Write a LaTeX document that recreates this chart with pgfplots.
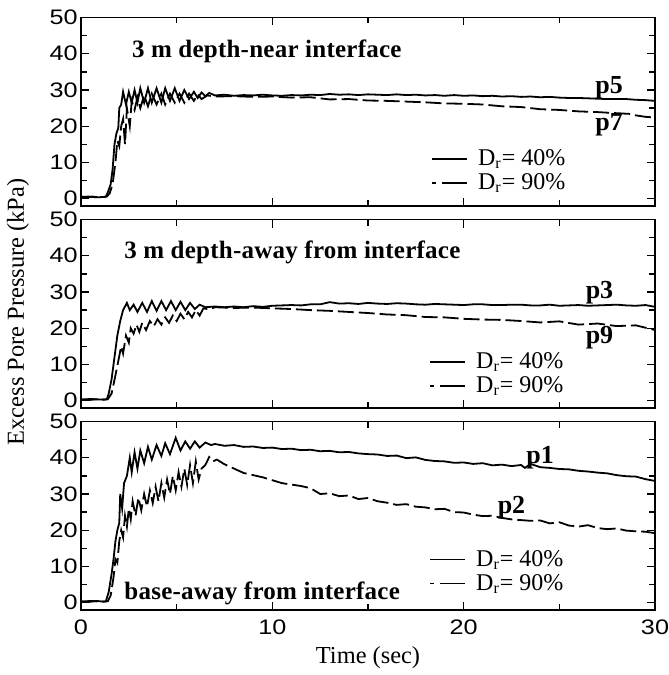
\documentclass[border=0pt]{standalone}
\usepackage{fontspec}
\setmainfont{Liberation Serif}
\newfontfamily\tickfont[FakeStretch=1.2]{Liberation Sans}
\newfontfamily\ttlfont[LetterSpace=1]{Liberation Serif}
\usepackage{pgfplots}
\pgfplotsset{compat=1.18}
\pgfplotsset{
 panel/.style={
  scale only axis, width=287pt, height=94.25pt,
  xmin=0,xmax=30,ymin=-2,ymax=50,
  xtick={0,10,20,30}, minor xtick={5,15,25},
  ytick={0,10,...,50}, minor ytick={5,15,...,45},
  tick align=inside, major tick length=4pt, minor tick length=3pt,
  axis line style={line width=0.8pt},
  every tick/.style={line width=0.7pt, black},
  tick label style={font=\tickfont\fontsize{10.5}{11}\selectfont},
  /pgf/number format/assume math mode=true,
  yticklabel style={inner sep=1.5pt},
  xticklabel style={yshift=-1.5pt},
  legend cell align=left,
  legend style={draw=none, fill=none, inner sep=0pt, row sep=-1.5pt,
    font=\fontsize{12}{13}\selectfont, anchor=west,
    /tikz/every odd column/.append style={column sep=3pt}},
 },
 sline/.style={line width=0.9pt, black,
   legend image code/.code={\draw[line width=0.8pt] (0pt,0pt) -- (17.5pt,0pt);}},
 dline/.style={line width=0.9pt, black, dash pattern=on 8pt off 2.5pt,
   legend image code/.code={\draw[line width=0.8pt, dash pattern=on 2pt off 3pt on 12.5pt off 3pt] (0pt,0pt) -- (17.5pt,0pt);}},
}
\tikzset{
 ttl/.style={anchor=west, font=\ttlfont\bfseries\fontsize{12.5}{14}\selectfont},
 plab/.style={font=\bfseries\fontsize{13}{14}\selectfont},
}
\begin{document}
\begin{tikzpicture}
\path[use as bounding box] (0,0) rectangle (334.5pt,337.5pt);
% Panel 1
\begin{axis}[panel, at={(40.5pt,234.5pt)}, anchor=south west, xticklabels={},
  legend style={at={(axis cs:18.3,7.7)}}]
\addplot[sline] coordinates {(0,0.6)(0.3,0.4)(0.6,0.6)(0.9,0.4)(1.2,0.5)(1.3,0.6)(1.42,2)(1.55,4)(1.65,8)(1.75,15)(1.85,18)(1.95,19.5)(2.0,25)(2.1,26)(2.2,29.5)(2.35,26)(2.5,29.5)(2.65,26.5)(2.8,30)(2.95,26.5)(3.1,30.5)(3.3,26.5)(3.5,30.5)(3.7,26.5)(3.95,30.5)(4.2,26.5)(4.4,30.5)(4.65,27)(4.9,30.5)(5.15,27)(5.4,30)(5.65,27.5)(5.9,29.5)(6.1,27.8)(6.3,29.3)(6.5,28.3)(6.7,29.2)(7,28.5)(7.5,28.7)(8,28.4)(8.5,28.6)(9,28.5)(9.5,28.7)(10,28.5)(10.5,28.4)(11,28.6)(11.5,28.5)(12,28.7)(12.5,28.6)(13,28.9)(13.5,28.7)(14,28.8)(14.5,28.6)(15,28.8)(15.5,28.7)(16,28.6)(16.5,28.8)(17,28.6)(17.5,28.7)(18,28.5)(18.5,28.6)(19,28.4)(19.5,28.6)(20,28.4)(20.5,28.5)(21,28.3)(21.5,28.4)(22,28.2)(22.5,28.3)(23,28.1)(23.5,28.2)(24,28.0)(24.5,28.1)(25,27.9)(25.5,27.8)(26,27.8)(26.5,27.7)(27,27.6)(27.5,27.5)(28,27.5)(28.5,27.5)(29,27.3)(29.5,27.2)(30,27.0)};
\addlegendentry{D\textsubscript{r}= 40\%}
\addplot[dline] coordinates {(0,0.5)(0.4,0.6)(0.8,0.4)(1.2,0.5)(1.35,0.6)(1.5,1.5)(1.65,4)(1.8,10)(1.9,16)(2.0,14.5)(2.1,20)(2.2,22)(2.3,15)(2.4,25)(2.55,20)(2.65,27)(2.8,24.5)(2.95,28)(3.1,25)(3.3,28.5)(3.5,25.5)(3.7,29)(3.95,26)(4.2,29)(4.4,26)(4.65,29)(4.9,26.5)(5.15,29)(5.4,26.5)(5.65,29)(5.9,27)(6.1,28.8)(6.3,27.5)(6.6,28.5)(7,28.2)(8,28.3)(9,28.1)(10,28.2)(11,27.9)(12,28.0)(13,27.4)(14,27.5)(15,27.1)(16,27.0)(17,26.8)(18,26.6)(19,26.3)(20,26.2)(21,26.0)(22,25.5)(23,25.3)(24,24.7)(25,24.5)(26,24.1)(27,23.9)(28,23.6)(28.7,23.4)(29,23.0)(29.5,22.6)(30,22.4)};
\addlegendentry{D\textsubscript{r}= 90\%}
\node[ttl] at (axis cs:2.3,40.7) {3 m depth-near interface};
\node[plab] at (axis cs:27.6,30.6) {p5};
\node[plab] at (axis cs:27.6,20.3) {p7};
\end{axis}
% Panel 2
\begin{axis}[panel, at={(40.5pt,133.5pt)}, anchor=south west, xticklabels={},
  legend style={at={(axis cs:18.2,7.45)}}]
\addplot[sline] coordinates {(0,0.4)(0.4,0.2)(0.8,0.4)(1.2,0.3)(1.35,0.4)(1.45,2)(1.6,6)(1.75,12)(1.9,18)(2.05,22)(2.2,25)(2.4,27)(2.55,25)(2.75,26.5)(2.95,24.5)(3.2,27)(3.45,24.5)(3.7,27.5)(3.95,24.8)(4.2,27.5)(4.45,25)(4.7,27.5)(4.95,25)(5.2,27.3)(5.45,25)(5.7,27)(5.95,25.3)(6.2,26.5)(6.5,25.8)(7,26.0)(7.5,25.8)(8,26.0)(8.5,25.8)(9,26.1)(9.5,25.9)(10,26.2)(10.5,26.3)(11,26.4)(11.5,26.3)(12,26.6)(12.5,26.6)(13,27.2)(13.5,26.8)(14,26.9)(14.5,26.7)(15,27.0)(15.5,26.8)(16,26.7)(16.5,26.9)(17,26.8)(17.5,26.6)(18,26.5)(18.5,26.7)(19,26.6)(19.5,26.5)(20,26.4)(20.5,26.6)(21,26.6)(21.5,26.4)(22,26.4)(22.5,26.5)(23,26.5)(23.5,26.3)(24,26.3)(24.5,26.5)(25,26.2)(25.5,26.3)(26,26.4)(26.5,26.2)(27,26.3)(27.5,26.4)(28,26.5)(28.5,26.3)(29,26.2)(29.5,26.4)(30,25.9)};
\addlegendentry{D\textsubscript{r}= 40\%}
\addplot[dline] coordinates {(0,0.3)(0.5,0.5)(1.0,0.3)(1.4,0.4)(1.6,2)(1.8,7)(1.95,11)(2.1,15)(2.2,13)(2.35,18)(2.5,16)(2.6,20)(2.75,18.5)(2.9,21)(3.05,19)(3.2,21.5)(3.4,19.5)(3.6,22)(3.8,20.5)(4.0,22.5)(4.2,21)(4.4,23)(4.6,21.5)(4.8,23.5)(5.0,22)(5.2,24)(5.4,22.5)(5.6,24.5)(5.8,23)(6.0,25)(6.2,23.5)(6.4,25.5)(6.7,25.2)(7,25.8)(8,25.6)(9,25.7)(10,25.5)(11,25.3)(12,25.0)(13,24.8)(14,24.5)(15,24.2)(16,23.8)(17,23.6)(18,23.1)(19,23.0)(20,22.6)(21,22.4)(22,22.3)(23,22.0)(24,21.6)(25,21.9)(26,21.0)(27,21.3)(28,20.6)(29,20.8)(30,19.5)};
\addlegendentry{D\textsubscript{r}= 90\%}
\node[ttl] at (axis cs:1.9,40.8) {3 m depth-away from interface};
\node[plab] at (axis cs:27.1,29.8) {p3};
\node[plab] at (axis cs:27.1,17.4) {p9};
\end{axis}
% Panel 3
\begin{axis}[panel, at={(40.5pt,32.5pt)}, anchor=south west,
  xlabel={Time (sec)}, xlabel style={font=\fontsize{12.2}{14}\selectfont, yshift=1pt},
  legend style={at={(axis cs:18.2,8.6)}}]
\addplot[sline] coordinates {(0,0.4)(0.4,0.2)(0.8,0.5)(1.2,0.3)(1.3,0.4)(1.45,3)(1.6,8)(1.7,12)(1.8,17)(1.9,20)(2.0,22)(2.05,30)(2.15,26)(2.25,33)(2.4,35)(2.55,40)(2.65,36)(2.8,41.5)(2.95,37)(3.1,42)(3.3,38.5)(3.5,43)(3.7,39.5)(3.95,43.5)(4.2,40.5)(4.4,44)(4.65,41)(4.95,45.5)(5.2,42)(5.45,44.5)(5.7,42.5)(5.95,44.5)(6.2,42.8)(6.5,44.2)(6.8,43.5)(7,43.8)(7.5,43.3)(8,43.5)(8.5,43.0)(9,43.1)(9.5,42.7)(10,42.8)(10.5,42.4)(11,42.5)(11.5,42.1)(12,42.2)(12.5,41.8)(13,41.9)(13.5,41.5)(14,41.6)(14.5,41.2)(15,41.0)(15.5,40.9)(16,40.5)(16.5,40.6)(17,39.9)(17.5,40.1)(18,39.4)(18.5,39.1)(19,39.0)(19.5,38.6)(20,38.7)(20.5,38.3)(21,38.5)(21.5,37.9)(22,38.1)(22.5,37.7)(23,38.0)(23.2,37.2)(23.5,38.3)(24,37.4)(24.5,37.2)(25,36.9)(25.5,36.8)(26,36.4)(26.5,36.2)(27,35.9)(27.5,35.7)(28,35.2)(28.5,34.9)(29,34.8)(29.5,34.1)(30,33.6)};
\addlegendentry{D\textsubscript{r}= 40\%}
\addplot[dline] coordinates {(0,0.3)(0.5,0.5)(1.0,0.3)(1.4,0.4)(1.55,2)(1.7,7)(1.8,12)(1.9,11)(2.0,17)(2.1,20)(2.2,18)(2.3,24)(2.4,21)(2.5,26)(2.6,23)(2.7,28)(2.85,24)(3.0,29)(3.15,25.5)(3.3,30)(3.45,26.5)(3.6,31)(3.75,27.5)(3.9,32)(4.05,28)(4.2,33)(4.35,29)(4.5,34)(4.65,30)(4.8,35)(4.95,31)(5.1,36)(5.25,32)(5.4,37)(5.55,32.5)(5.7,38)(5.85,33)(6.0,39)(6.15,34)(6.3,37)(6.5,38)(6.7,40.2)(6.9,39)(7.1,39.5)(7.5,38.2)(8,37.0)(8.5,35.8)(9,35.2)(9.5,34.6)(10,33.8)(10.5,33.0)(11,32.6)(11.5,32.2)(12,31.6)(12.5,30.0)(13,30.2)(13.5,29.4)(14,29.6)(14.5,28.6)(15,28.9)(15.5,28.0)(16,27.6)(16.5,27.0)(17,27.2)(17.5,26.5)(18,26.3)(18.5,25.8)(19,25.9)(19.5,25.0)(20,24.9)(20.5,24.3)(21,23.9)(21.5,24.0)(22,23.4)(22.5,23.0)(23,22.8)(23.5,22.6)(24,22.7)(24.5,21.9)(25,22.2)(25.5,21.3)(26,21.0)(26.5,21.4)(27,20.6)(27.5,20.3)(28,20.5)(28.5,19.9)(29,19.7)(29.5,19.6)(30,19.2)};
\addlegendentry{D\textsubscript{r}= 90\%}
\node[ttl] at (axis cs:1.9,2.7) {base-away from interface};
\node[plab] at (axis cs:24.0,40.0) {p1};
\node[plab] at (axis cs:22.5,26.1) {p2};
\end{axis}
\node[rotate=90, font=\fontsize{12.2}{14}\selectfont] at (9pt,181.5pt) {Excess Pore Pressure (kPa)};
\end{tikzpicture}
\end{document}
